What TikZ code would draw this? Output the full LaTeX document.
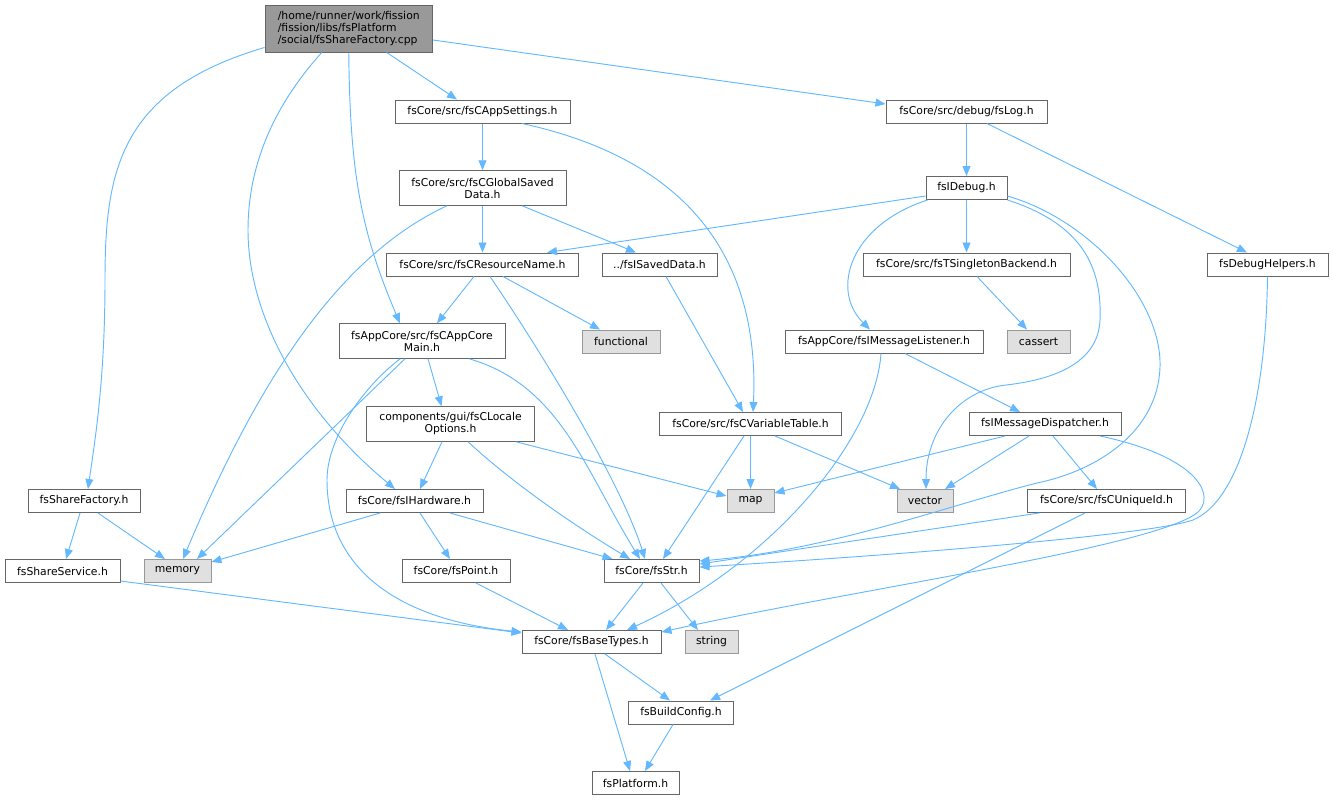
\documentclass[tikz,border=0pt]{standalone}
\usepackage{fontspec}
\setmainfont{DejaVu Sans}
\usetikzlibrary{calc,arrows.meta}
\definecolor{edgecol}{HTML}{63B8FF}
\definecolor{bordcol}{HTML}{666666}
\definecolor{extbord}{HTML}{999999}
\definecolor{extfill}{HTML}{E0E0E0}
\definecolor{rootfill}{HTML}{999999}
\newcommand\nd[7]{\node[#6,minimum width=#4*0.75pt,minimum height=#5*0.75pt] (#1) at (#2,#3) {#7};}
\begin{document}
\begin{tikzpicture}[x=0.75pt,y=-0.75pt,
  box/.style={draw=bordcol,fill=white,line width=0.75pt,inner sep=0pt,font=\fontsize{8.1}{9}\selectfont,align=center},
  ext/.style={box,draw=extbord,fill=extfill},
  rootbox/.style={box,fill=rootfill,align=left},
  edge/.style={draw=edgecol,line width=0.7pt,-{Triangle[length=7.5pt,width=6pt]}}]
\useasboundingbox (0,0) rectangle (1333,800);
\nd{root}{348.75}{28.5}{167.5}{47}{rootbox}{/home/runner/work/fission\\/fission/libs/fsPlatform\\/social/fsShareFactory.cpp}
\nd{appsettings}{482.5}{111.5}{175}{23}{box}{fsCore/src/fsCAppSettings.h}
\nd{globalsaved}{482.5}{188}{167}{34.5}{box}{fsCore/src/fsCGlobalSaved\\Data.h}
\nd{resourcename}{482.5}{264.5}{191.5}{23}{box}{fsCore/src/fsCResourceName.h}
\nd{isaveddata}{659.5}{264.5}{115}{23}{box}{../fsISavedData.h}
\nd{appcoremain}{422}{341}{166}{34.5}{box}{fsAppCore/src/fsCAppCore\\Main.h}
\nd{functional}{621}{341.5}{78}{23}{ext}{functional}
\nd{localeoptions}{450.5}{424}{168.5}{34.5}{box}{components/gui/fsCLocale\\Options.h}
\nd{variabletable}{750.5}{424}{181.5}{23}{box}{fsCore/src/fsCVariableTable.h}
\nd{msglistener}{884}{341.5}{198}{23}{box}{fsAppCore/fsIMessageListener.h}
\nd{cassert}{1038.5}{341.5}{63}{23}{ext}{cassert}
\nd{msgdispatcher}{1045}{424}{152}{23}{box}{fsIMessageDispatcher.h}
\nd{fsLog}{966.5}{111.5}{161}{23}{box}{fsCore/src/debug/fsLog.h}
\nd{idebug}{966.5}{188}{81}{23}{box}{fsIDebug.h}
\nd{singleton}{966.5}{264.5}{207}{23}{box}{fsCore/src/fsTSingletonBackend.h}
\nd{debughelpers}{1267.5}{264.5}{121}{23}{box}{fsDebugHelpers.h}
\nd{sharefactory}{84}{501}{112}{23}{box}{fsShareFactory.h}
\nd{ihardware}{414.5}{501}{137}{23}{box}{fsCore/fsIHardware.h}
\nd{map}{750.5}{501}{47}{23}{ext}{map}
\nd{vector}{925}{501}{56}{23}{ext}{vector}
\nd{uniqueid}{1106.5}{501}{157.5}{23}{box}{fsCore/src/fsCUniqueId.h}
\nd{shareservice}{62.5}{571}{115}{23}{box}{fsShareService.h}
\nd{memory}{177.5}{571}{67}{23}{ext}{memory}
\nd{point}{456}{571}{108}{23}{box}{fsCore/fsPoint.h}
\nd{str}{651.5}{571}{95}{23}{box}{fsCore/fsStr.h}
\nd{basetypes}{591.5}{642}{139}{23}{box}{fsCore/fsBaseTypes.h}
\nd{string}{711.5}{642}{53}{23}{ext}{string}
\nd{buildconfig}{681}{712.5}{104.5}{23}{box}{fsBuildConfig.h}
\nd{platform}{635.5}{783}{87}{23}{box}{fsPlatform.h}
% root
\draw[edge] ($(root.south west)+(0,-5)$) .. controls (120,90) and (105,170) .. (105,280) .. controls (105,380) and (95,440) .. ($(sharefactory.north)+(4,0)$);
\draw[edge] ($(root.south)+(-27,0)$) .. controls (270,110) and (248,170) .. (248,230) .. controls (248,315) and (300,410) .. ($(ihardware.north)+(-19.5,0)$);
\draw[edge] (root.south) .. controls (350,170) and (360,230) .. ($(appcoremain.north)+(-22,0)$);
\draw[edge] ($(root.south)+(38,0)$) -- ($(appsettings.north)+(-25.5,0)$);
\draw[edge] ($(root.east)+(0,11.5)$) -- ($(fsLog.west)+(0,-7.5)$);
% appsettings
\draw[edge] (appsettings.south) -- (globalsaved.north);
\draw[edge] ($(appsettings.south)+(39.5,0)$) .. controls (690,160) and (760,260) .. ($(variabletable.north)+(2.5,0)$);
% globalsaved
\draw[edge] (globalsaved.south) -- (resourcename.north);
\draw[edge] ($(globalsaved.south)+(39.5,0)$) -- ($(isaveddata.north)+(-23.5,0)$);
\draw[edge] ($(globalsaved.south)+(-35.5,0)$) .. controls (330,260) and (250,400) .. ($(memory.north)+(5.5,0)$);
% resourcename
\draw[edge] ($(resourcename.south)+(-8.5,0)$) -- ($(appcoremain.north)+(15,0)$);
\draw[edge] ($(resourcename.south)+(7.5,0)$) .. controls (540,350) and (620,480) .. ($(str.north)+(-6.5,0)$);
\draw[edge] ($(resourcename.south)+(20.5,0)$) -- ($(functional.north)+(-21,0)$);
% isaveddata
\draw[edge] ($(isaveddata.south)+(6.5,0)$) -- ($(variabletable.north)+(-7.5,0)$);
% fsLog
\draw[edge] (fsLog.south) -- (idebug.north);
\draw[edge] ($(fsLog.south)+(20.5,0)$) -- ($(debughelpers.north)+(-20.5,0)$);
% idebug
\draw[edge] ($(idebug.west)+(0,8)$) -- ($(resourcename.north)+(64.5,0)$);
\draw[edge] ($(idebug.south west)+(2,0)$) .. controls (850,225) and (830,290) .. ($(msglistener.north)+(-14,0)$);
\draw[edge] (idebug.south) -- (singleton.north);
\draw[edge] (idebug.south east) .. controls (1085,225) and (1102,270) .. (1100,320) .. controls (1098,365) and (1050,380) .. (1006,385) .. controls (960,390) and (926,430) .. ($(vector.north)+(1,0)$);
\draw[edge] ($(idebug.east)+(0,8)$) .. controls (1090,220) and (1162,300) .. (1160,367) .. controls (1158,430) and (1100,470) .. (1037,483) .. controls (950,505) and (830,550) .. ($(str.east)+(0,-10)$);
% singleton
\draw[edge] ($(singleton.south)+(10.5,0)$) -- ($(cassert.north)+(-11.5,0)$);
% debughelpers
\draw[edge] (debughelpers.south) .. controls (1266,400) and (1240,500) .. (1193,520) .. controls (1150,535) and (900,555) .. ($(str.east)+(0,-4)$);
% appcoremain
\draw[edge] ($(appcoremain.south)+(6,0)$) -- ($(localeoptions.north)+(-9,0)$);
\draw[edge] ($(appcoremain.south)+(47,0)$) .. controls (560,385) and (585,470) .. ($(str.north)+(-11.5,0)$);
\draw[edge] ($(appcoremain.south)+(-17,0)$) -- ($(memory.north)+(19.5,0)$);
\draw[edge] ($(appcoremain.south)+(-22,0)$) .. controls (360,390) and (327,440) .. (327,480) .. controls (327,570) and (400,620) .. ($(basetypes.west)+(0,-10)$);
% localeoptions
\draw[edge] ($(localeoptions.south)+(65.5,0)$) -- ($(map.west)+(0,-5)$);
\draw[edge] ($(localeoptions.south)+(-8.5,0)$) -- ($(ihardware.north)+(5.5,0)$);
\draw[edge] ($(localeoptions.south)+(17.5,0)$) .. controls (520,490) and (590,535) .. ($(str.north)+(-21.5,0)$);
% variabletable
\draw[edge] (variabletable.south) -- (map.north);
\draw[edge] ($(variabletable.south)+(24.5,0)$) -- ($(vector.north)+(-25,0)$);
\draw[edge] ($(variabletable.south)+(-6.5,0)$) -- ($(str.north)+(11.5,0)$);
% msglistener
\draw[edge] ($(msglistener.south)+(21,0)$) -- ($(msgdispatcher.north)+(-25,0)$);
\draw[edge] ($(msglistener.south)+(-3,0)$) .. controls (875,440) and (770,565) .. ($(basetypes.north)+(35.5,0)$);
% msgdispatcher
\draw[edge] ($(msgdispatcher.south)+(-40,0)$) -- ($(map.east)+(0,-8)$);
\draw[edge] ($(msgdispatcher.south)+(-16,0)$) -- ($(vector.north)+(20,0)$);
\draw[edge] ($(msgdispatcher.south)+(8,0)$) -- ($(uniqueid.north)+(-9.5,0)$);
\draw[edge] ($(msgdispatcher.south)+(55,0)$) .. controls (1190,455) and (1215,490) .. (1200,510) .. controls (1170,545) and (850,590) .. ($(basetypes.east)+(0,-10)$);
% uniqueid
\draw[edge] ($(uniqueid.south west)+(12,0)$) -- ($(str.east)+(0,-7)$);
\draw[edge] ($(uniqueid.south)+(-21.5,0)$) -- ($(buildconfig.north)+(29,0)$);
% ihardware
\draw[edge] ($(ihardware.south)+(-34.5,0)$) -- ($(memory.north east)+(0,3)$);
\draw[edge] ($(ihardware.south)+(5.5,0)$) -- ($(point.north)+(-6,0)$);
\draw[edge] ($(ihardware.south)+(35.5,0)$) -- ($(str.north west)+(9,0)$);
% sharefactory
\draw[edge] ($(sharefactory.south)+(-4,0)$) -- ($(shareservice.north)+(3.5,0)$);
\draw[edge] ($(sharefactory.south)+(14,0)$) -- ($(memory.north)+(-12.5,0)$);
% lower
\draw[edge] ($(shareservice.east)+(0,10)$) -- ($(basetypes.west)+(0,-9)$);
\draw[edge] ($(point.south)+(20,0)$) -- ($(basetypes.north)+(-23.5,0)$);
\draw[edge] ($(str.south)+(-8.5,0)$) -- ($(basetypes.north)+(14.5,0)$);
\draw[edge] ($(str.south)+(9.5,0)$) -- ($(string.north)+(-13.5,0)$);
\draw[edge] ($(basetypes.south)+(13.5,0)$) -- ($(buildconfig.north)+(-11,0)$);
\draw[edge] ($(basetypes.south)+(3.5,0)$) -- ($(platform.north)+(-5.5,0)$);
\draw[edge] ($(buildconfig.south)+(-8,0)$) -- ($(platform.north)+(9.5,0)$);
\end{tikzpicture}
\end{document}
